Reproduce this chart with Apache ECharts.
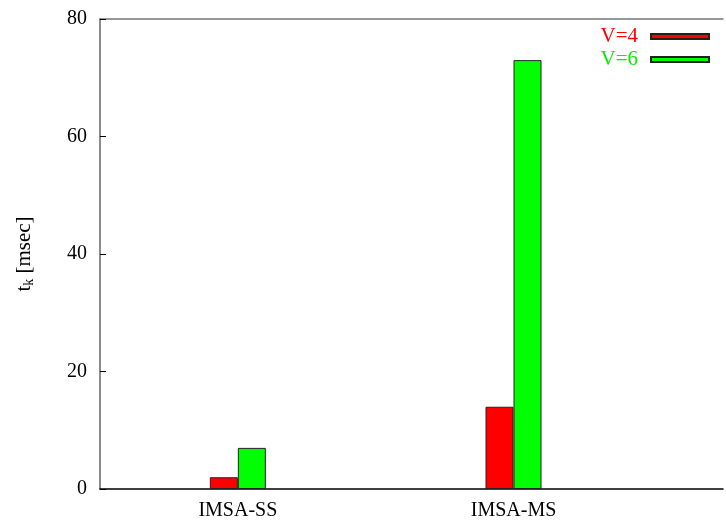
<!DOCTYPE html>
<html>
<head>
<meta charset="utf-8">
<script src="https://cdn.jsdelivr.net/npm/echarts@6/dist/echarts.min.js"></script>
<style>html,body{margin:0;padding:0;background:#fff}#c{width:726px;height:524px}</style>
</head>
<body>
<div id="c"></div>
<script>
var categories = ['IMSA-SS', 'IMSA-MS'];
var seriesNames = ['V=4', 'V=6'];
var v4 = [2, 14];
var v6 = [7, 73];
var yTicks = [0, 20, 40, 60, 80];

var gridLeft = 100, gridTop = 19, gridBottom = 35;
var gridRight = 0;
var unitPx = 277;
var plotW = 726 - gridLeft - gridRight;
var xMin = -0.5, xMax = xMin + plotW / unitPx;

var font = '"Liberation Serif", "DejaVu Serif", serif';
var chart = echarts.init(document.getElementById('c'));
chart.setOption({
  animation: false,
  textStyle: {fontFamily: font},
  grid: {left: gridLeft, right: gridRight, top: gridTop, bottom: gridBottom},
  legend: {
    right: 11, top: 21, orient: 'vertical', align: 'right',
    itemWidth: 58, itemHeight: 5, itemGap: 2,
    icon: 'rect',
    textStyle: {fontFamily: font, fontSize: 21, padding: [0, 8, 0, 0]},
    data: seriesNames.map(function (n, i) {
      return {name: n, textStyle: {color: i === 0 ? '#ff0000' : '#00ee00'}};
    })
  },
  xAxis: [{
    type: 'value', min: xMin, max: xMax, interval: 0.5,
    axisLine: {show: true, onZero: false, lineStyle: {color: '#000', width: 1.5}},
    axisTick: {show: false},
    splitLine: {show: false},
    axisLabel: {
      fontFamily: font, fontSize: 20, color: '#000', margin: 12,
      formatter: function (v) { var i = Math.round(v); return (Math.abs(v - i) < 1e-6 && categories[i]) ? categories[i] : ''; }
    }
  }, {
    type: 'value', position: 'top', min: xMin, max: xMax,
    axisLine: {show: true, onZero: false, lineStyle: {color: '#777', width: 1.5}},
    axisTick: {show: false}, axisLabel: {show: false}, splitLine: {show: false}
  }],
  yAxis: {
    type: 'value', min: 0, max: 80, interval: 20,
    name: '{a|t}{s|k}{a| [msec]}',
    nameLocation: 'middle', nameGap: 64, nameRotate: 90,
    nameTextStyle: {rich: {
      a: {fontFamily: font, fontSize: 21, color: '#000'},
      s: {fontFamily: font, fontSize: 14, color: '#000', verticalAlign: 'bottom', padding: [9, 0, 0, 0]}
    }},
    axisLine: {show: true, onZero: false, lineStyle: {color: '#666', width: 1.5}},
    axisTick: {show: true, inside: true, length: 6, lineStyle: {color: '#000'}},
    splitLine: {show: false},
    axisLabel: {fontFamily: font, fontSize: 20, color: '#000', margin: 13,
      formatter: function (v) { return yTicks.indexOf(v) >= 0 ? String(v) : ''; }}
  },
  series: [{
    name: seriesNames[0], type: 'bar', barWidth: 28, barGap: '0%',
    data: v4.map(function (v, i) { return [i, v]; }),
    itemStyle: {color: '#ff0000', borderColor: '#222', borderWidth: 1}
  }, {
    name: seriesNames[1], type: 'bar', barWidth: 28, barGap: '0%',
    data: v6.map(function (v, i) { return [i, v]; }),
    itemStyle: {color: '#00ff00', borderColor: '#222', borderWidth: 1}
  }]
});
</script>
</body>
</html>
